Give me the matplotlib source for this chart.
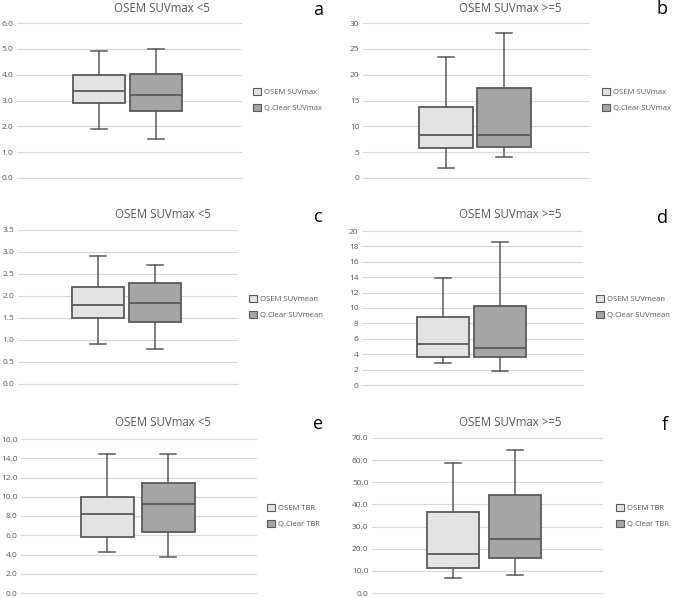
import matplotlib
matplotlib.use("Agg")
import matplotlib.pyplot as plt
from matplotlib.patches import Patch
from matplotlib.ticker import FormatStrFormatter

plt.rcParams["font.family"] = ["Open Sans", "DejaVu Sans"]

# box stats per panel: (whislo, q1, med, q3, whishi)
osem_a = [1.9, 2.9, 3.35, 4.0, 4.9]
qclear_a = [1.5, 2.6, 3.2, 4.02, 5.0]
osem_b = [2.0, 5.8, 8.4, 13.8, 23.4]
qclear_b = [4.0, 6.0, 8.4, 17.5, 28.0]
osem_c = [0.9, 1.5, 1.8, 2.2, 2.9]
qclear_c = [0.8, 1.4, 1.85, 2.3, 2.7]
osem_d = [2.8, 3.6, 5.3, 8.8, 13.9]
qclear_d = [1.8, 3.6, 4.8, 10.3, 18.6]
osem_e = [4.3, 5.8, 8.2, 10.0, 14.4]
qclear_e = [3.7, 6.3, 9.2, 11.4, 14.4]
osem_f = [6.7, 11.2, 17.6, 36.6, 58.5]
qclear_f = [8.1, 15.6, 24.4, 44.3, 64.4]

titles = ["OSEM SUVmax <5", "OSEM SUVmax >=5"] * 3
letters = ["a", "b", "c", "d", "e", "f"]
legend_labels = [
    ("OSEM SUVmax", "Q.Clear SUVmax"),
    ("OSEM SUVmax", "Q.Clear SUVmax"),
    ("OSEM SUVmean", "Q.Clear SUVmean"),
    ("OSEM SUVmean", "Q.Clear SUVmean"),
    ("OSEM TBR", "Q.Clear TBR"),
    ("OSEM TBR", "Q.Clear TBR"),
]
y_limits = [(0, 6), (0, 30), (0, 3.5), (0, 20), (0, 16), (0, 70)]
y_steps = [1, 5, 0.5, 2, 2, 10]
y_formats = ["%.1f", "%d", "%.1f", "%d", "%.1f", "%.1f"]
series = [
    (osem_a, qclear_a), (osem_b, qclear_b), (osem_c, qclear_c),
    (osem_d, qclear_d), (osem_e, qclear_e), (osem_f, qclear_f),
]

# layout in pixels: axes left, right, top, bottom, box centers, title, letter, legend
W, H = 677, 598
axes_px = [
    (17, 242, 23, 178), (363, 590, 23, 178),
    (18, 238, 230, 384), (362, 583, 231, 385),
    (21, 257, 439, 593), (372, 603, 438, 593),
]
centers_px = [(99, 156), (446, 504), (98, 155), (443, 500), (107, 168), (453, 515)]
box_px = [52, 54, 52, 52, 53, 52]
title_px = [(162, 8), (510, 8), (163, 215), (510, 215), (163, 423), (510, 423)]
letter_px = [(318, 10), (662, 9), (318, 217), (663, 218), (318, 424), (665, 425)]
legend_px = [(253, 100), (602, 100), (249, 307), (596, 307), (267, 516), (616, 516)]

light = "#e3e3e3"
dark = "#a5a5a5"
edge = "#5a5a5a"
grid = "#d9d9d9"
text_grey = "#595959"

fig = plt.figure(figsize=(W / 100, H / 100), dpi=100)

for i in range(6):
    left, right, top, bottom = axes_px[i]
    ax = fig.add_axes([left / W, 1 - bottom / H, (right - left) / W, (bottom - top) / H])
    c1, c2 = centers_px[i]
    s = c2 - c1
    stats = []
    for vals in series[i]:
        lo, q1, med, q3, hi = vals
        stats.append({"whislo": lo, "q1": q1, "med": med, "q3": q3, "whishi": hi, "fliers": []})
    width = box_px[i] / s
    bp = ax.bxp(stats, positions=[1, 2], widths=width, patch_artist=True,
                showfliers=False, capwidths=width * 0.3,
                boxprops=dict(linewidth=1.3, edgecolor=edge),
                medianprops=dict(color=edge, linewidth=1.3),
                whiskerprops=dict(color=edge, linewidth=1.1),
                capprops=dict(color=edge, linewidth=1.1))
    for patch, col in zip(bp["boxes"], [light, dark]):
        patch.set_facecolor(col)
    for w in bp["whiskers"] + bp["caps"] + bp["medians"] + bp["boxes"]:
        w.set_zorder(3)

    ax.set_xlim(1 - (c1 - left) / s, 2 + (right - c2) / s)
    lo, hi = y_limits[i]
    ax.set_ylim(lo, hi)
    n = int(round((hi - lo) / y_steps[i]))
    ax.set_yticks([lo + k * y_steps[i] for k in range(n + 1)])
    ax.yaxis.set_major_formatter(FormatStrFormatter(y_formats[i]))
    ax.set_xticks([])
    ax.grid(axis="y", color=grid, linewidth=0.8, zorder=0)
    ax.set_axisbelow(True)
    for side in ["top", "right", "left"]:
        ax.spines[side].set_visible(False)
    ax.spines["bottom"].set_color(grid)
    ax.spines["bottom"].set_linewidth(0.8)
    ax.tick_params(axis="y", length=0, labelsize=6, labelcolor=text_grey, pad=2.5)

    tx, ty = title_px[i]
    fig.text(tx / W, 1 - ty / H, titles[i], ha="center", va="center",
             fontsize=8.3, color=text_grey)
    lx, ly = letter_px[i]
    fig.text(lx / W, 1 - ly / H, letters[i], ha="center", va="center",
             fontsize=13, color="black")

    handles = [Patch(facecolor=light, edgecolor=edge, linewidth=0.8),
               Patch(facecolor=dark, edgecolor=edge, linewidth=0.8)]
    gx, gy = legend_px[i]
    fig.legend(handles, legend_labels[i], loc="center left",
               bbox_to_anchor=(gx / W, 1 - gy / H), bbox_transform=fig.transFigure,
               frameon=False, fontsize=5.5, handlelength=1.1, handleheight=1.1,
               handletextpad=0.4, labelspacing=1.0, borderpad=0, borderaxespad=0,
               labelcolor=text_grey)

fig.savefig("out.png", dpi=100)
